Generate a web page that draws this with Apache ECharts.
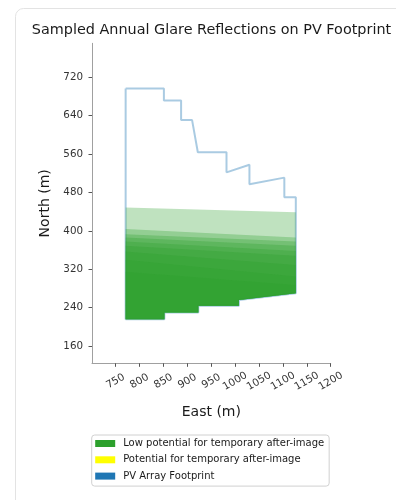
<!DOCTYPE html>
<html>
<head>
<meta charset="utf-8">
<script src="https://cdn.jsdelivr.net/npm/echarts@6/dist/echarts.min.js"></script>
<style>
html,body{margin:0;padding:0;background:#fff;}
#chart{width:396px;height:500px;}
</style>
</head>
<body>
<div id="chart"></div>
<script>
// ---- data ----
const xTicks = [750, 800, 850, 900, 950, 1000, 1050, 1100, 1150, 1200];
const yTicks = [160, 240, 320, 400, 480, 560, 640, 720];

// PV array footprint outline (East, North)
const footprintEast  = [771, 851, 851, 887, 887, 910, 922, 982, 982, 1030, 1030, 1103, 1103, 1127, 1127, 1008, 1008, 923, 923, 852, 852, 771, 771];
const footprintNorth = [697, 697, 672, 672, 631, 631, 564, 564, 522, 538, 497, 511, 470, 470, 270, 256, 244, 244, 230, 230, 216, 216, 697];

// glare layers: top edge north values at the west (771) and east (1127) edges
const glareWestEast = [771, 1127];
const glareTopWest = [449, 404, 393, 386, 378, 369, 357, 340, 315];
const glareTopEast = [439, 386, 378, 369, 358, 348, 329, 305, 287];
// shared lower boundary (from east edge going west)
const glareBottomEast  = [1127, 1008, 1008, 923, 923, 852, 852, 771];
const glareBottomNorth = [270, 256, 244, 244, 230, 230, 216, 216];

const seriesNames = ['Low potential for temporary after-image', 'Potential for temporary after-image', 'PV Array Footprint'];
const seriesColors = ['#2ca02c', '#ffff00', '#1f77b4'];

// ---- chart ----
const chart = echarts.init(document.getElementById('chart'), null, {renderer: 'canvas'});
const font = 'DejaVu Sans';

const footprintData = footprintEast.map((e, i) => [e, footprintNorth[i]]);
const glareData = glareTopWest.map((w, i) => [glareWestEast[0], w, glareWestEast[1], glareTopEast[i]]);

chart.setOption({
  animation: false,
  textStyle: {fontFamily: font},
  graphic: [{
    type: 'rect', left: 13, top: 6, shape: {width: 420, height: 520, r: 8},
    style: {fill: 'none', stroke: '#e3e3e3', lineWidth: 1}, silent: true, z: -10
  }],
  title: {
    text: 'Sampled Annual Glare Reflections on PV Footprint',
    left: 211.5, textAlign: 'center', top: 23, padding: 0,
    textStyle: {fontFamily: font, fontSize: 14.4, fontWeight: 'normal', color: '#1a1a1a'}
  },
  legend: {
    orient: 'vertical', left: 91.7, top: 435,
    padding: [2.5, 5, 4, 3.5],
    itemWidth: 20, itemHeight: 7, itemGap: 4.3,
    borderColor: '#d0d0d0', borderWidth: 1, borderRadius: 3,
    textStyle: {fontFamily: font, fontSize: 10, color: '#1a1a1a', lineHeight: 12, padding: [0, 0, 0, 3]},
    data: seriesNames.map((n, i) => ({name: n, icon: 'rect', itemStyle: {color: seriesColors[i], borderWidth: 0}}))
  },
  grid: {left: 92, right: 65.3, top: 43.3, bottom: 136.7},
  xAxis: {
    type: 'value', min: 700.6, max: 1200,
    name: 'East (m)', nameLocation: 'middle', nameGap: 42,
    nameTextStyle: {fontFamily: font, fontSize: 14, color: '#1a1a1a'},
    axisLine: {show: true, lineStyle: {color: '#a0a0a0', width: 1}},
    axisTick: {show: true, length: 3.5, customValues: xTicks, lineStyle: {color: '#555'}},
    axisLabel: {
      customValues: xTicks, rotate: 30, align: 'center', verticalAlign: 'middle',
      margin: 18, fontFamily: font, fontSize: 10.3, color: '#333',
      formatter: function (v) { return String(v); }
    },
    splitLine: {show: false}
  },
  yAxis: {
    type: 'value', min: 124, max: 791,
    name: 'North (m)', nameLocation: 'middle', nameGap: 36, nameRotate: 90,
    nameTextStyle: {fontFamily: font, fontSize: 14, color: '#1a1a1a'},
    axisLine: {show: true, lineStyle: {color: '#a0a0a0', width: 1}},
    axisTick: {show: true, length: 3.5, customValues: yTicks, lineStyle: {color: '#555'}},
    axisLabel: {customValues: yTicks, margin: 9, fontFamily: font, fontSize: 10.3, color: '#333',
      formatter: function (v) { return String(v); }},
    splitLine: {show: false}
  },
  series: [
    {
      name: seriesNames[2], type: 'line', data: footprintData,
      showSymbol: false, symbol: 'none', z: 1,
      itemStyle: {color: seriesColors[2]},
      lineStyle: {color: 'rgba(31,119,180,0.38)', width: 2}
    },
    {
      name: seriesNames[0], type: 'custom', z: 2,
      itemStyle: {color: seriesColors[0]},
      encode: {x: [0, 2], y: [1, 3]},
      data: glareData,
      renderItem: function (params, api) {
        const pts = [
          api.coord([api.value(0), api.value(1)]),
          api.coord([api.value(2), api.value(3)])
        ];
        for (let k = 0; k < glareBottomEast.length; k++) {
          pts.push(api.coord([glareBottomEast[k], glareBottomNorth[k]]));
        }
        return {type: 'polygon', shape: {points: pts}, style: {fill: 'rgba(44,160,44,0.3)', stroke: 'none'}};
      }
    },
    {
      name: seriesNames[1], type: 'custom', data: [],
      itemStyle: {color: seriesColors[1]},
      renderItem: function () { return null; }
    }
  ]
});
</script>
</body>
</html>
